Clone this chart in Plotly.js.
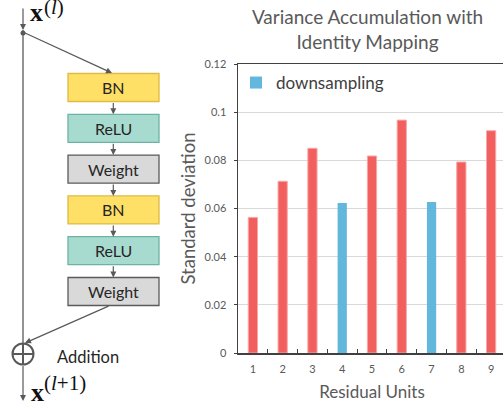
<!DOCTYPE html>
<html>
<head>
<meta charset="utf-8">
<script src="https://cdn.plot.ly/plotly-3.0.1.min.js"></script>
<style>
  html, body { margin: 0; padding: 0; overflow: hidden; background: #fff; }
  #chart { width: 508px; height: 406px; }
</style>
</head>
<body>
<div id="chart"></div>
<script>
// ---- data ----
const categories = ["1", "2", "3", "4", "5", "6", "7", "8", "9"];
const residualStd = [0.0563, 0.0713, 0.0850, 0.0623, 0.0818, 0.0967, 0.0627, 0.0793, 0.0923];
const downsamplingUnits = ["4", "7"];
const blockLabels = ["BN", "ReLU", "Weight", "BN", "ReLU", "Weight"];
const yTickVals = [0, 0.02, 0.04, 0.06, 0.08, 0.1, 0.12];

const normalX = [], normalY = [], downX = [], downY = [];
categories.forEach((c, i) => {
  if (downsamplingUnits.includes(c)) { downX.push(c); downY.push(residualStd[i]); }
  else { normalX.push(c); normalY.push(residualStd[i]); }
});

// ---- layout geometry (pixels) ----
const FIG_W = 508, FIG_H = 406;
const M = { l: 238, r: 2, t: 64, b: 53 };
const PW = FIG_W - M.l - M.r, PH = FIG_H - M.t - M.b;
const px = x => (x - M.l) / PW;
const py = y => 1 - (y - M.t) / PH;

const FONT = "Lato, 'Open Sans', sans-serif";
const SERIF = "'Liberation Serif', 'DejaVu Serif', serif";
const LINE = "#595959";

const shapes = [];
const annotations = [];

function arrow(x1, y1, x2, y2) {
  return { xref: "paper", yref: "paper", x: px(x2), y: py(y2),
    ax: x1 - x2, ay: y1 - y2, axref: "pixel", ayref: "pixel",
    text: "", showarrow: true, arrowhead: 2, arrowsize: 1, arrowwidth: 1.2,
    arrowcolor: LINE, standoff: 0, startstandoff: 0 };
}
function line(x1, y1, x2, y2, w) {
  return { type: "line", xref: "paper", yref: "paper",
    x0: px(x1), y0: py(y1), x1: px(x2), y1: py(y2),
    line: { color: LINE, width: w || 1.3 } };
}
function label(text, x, y, size, family, xanchor) {
  return { xref: "paper", yref: "paper", x: px(x), y: py(y), text: text,
    showarrow: false, xanchor: xanchor || "left", yanchor: "middle", borderpad: 0,
    font: { family: family, size: size, color: "#111" } };
}

// blocks
const boxStyles = {
  BN: { fill: "#FFE066", line: "#DDBB44" },
  ReLU: { fill: "#A8DBD0", line: "#6DB3A3" },
  Weight: { fill: "#D9D9D9", line: "#5A5A5A" }
};
const boxL = 68, boxR = 159, boxH = 28, boxTop0 = 73.5, boxStep = 40.8, boxCx = 113.3;
blockLabels.forEach((lab, i) => {
  const top = boxTop0 + i * boxStep;
  const st = boxStyles[lab];
  shapes.push({ type: "rect", xref: "paper", yref: "paper",
    x0: px(boxL), x1: px(boxR), y0: py(top), y1: py(top + boxH),
    fillcolor: st.fill, line: { color: st.line, width: 1.3 } });
  annotations.push({ xref: "paper", yref: "paper", x: px(boxCx), y: py(top + boxH / 2),
    text: lab, showarrow: false, xanchor: "center", yanchor: "middle",
    font: { family: FONT, size: 16, color: "#262626" } });
  if (i < blockLabels.length - 1) {
    annotations.push(arrow(boxCx, top + boxH, boxCx, top + boxStep));
  }
});

const mainX = 23;
// identity path
annotations.push(arrow(mainX, 7, mainX, 30));
shapes.push(line(mainX, 30, mainX, 343.5));
shapes.push({ type: "circle", xref: "paper", yref: "paper",
  x0: px(mainX - 2.5), x1: px(mainX + 2.5), y0: py(30.5), y1: py(35.5),
  fillcolor: LINE, line: { color: LINE, width: 0 } });
// branch in / out
annotations.push(arrow(mainX, 32, 112, 73));
annotations.push(arrow(110, 305.5, 25, 343));
// addition symbol
const cy = 354, r = 10.5;
shapes.push({ type: "circle", xref: "paper", yref: "paper",
  x0: px(mainX - r), x1: px(mainX + r), y0: py(cy - r), y1: py(cy + r),
  line: { color: LINE, width: 2 } });
shapes.push(line(mainX - r, cy, mainX + r, cy, 2));
shapes.push(line(mainX, cy - r, mainX, cy + r, 2));
annotations.push(arrow(mainX, cy + r, mainX, 401));

annotations.push({ xref: "paper", yref: "paper", x: px(55), y: py(357), text: "Addition",
  showarrow: false, xanchor: "left", yanchor: "middle",
  font: { family: FONT, size: 16.5, color: "#262626" } });
// x^(l) and x^(l+1)
annotations.push(label("<b>x</b>", 29, 12.5, 26, SERIF));
annotations.push(label("(<i>l</i>)", 43, 7, 21, SERIF));
annotations.push(label("<b>x</b>", 30, 392, 26, SERIF));
annotations.push(label("(<i>l</i>+1)", 43, 383, 21, SERIF));

const traces = [
  { type: "bar", x: normalX, y: normalY, name: "identity", showlegend: false,
    width: 0.31, marker: { color: "#F25F5F", line: { color: "#F9A7A7", width: 1 } },
    hoverinfo: "x+y" },
  { type: "bar", x: downX, y: downY, name: "downsampling", showlegend: true,
    width: 0.31, marker: { color: "#62B7DC", line: { width: 0 } },
    hoverinfo: "x+y" }
];

const layout = {
  width: FIG_W, height: FIG_H,
  margin: M,
  paper_bgcolor: "#fff", plot_bgcolor: "#fff",
  barmode: "overlay",
  font: { family: FONT, color: "#595959" },
  title: { text: "Variance Accumulation with<br>Identity Mapping",
    xref: "paper", x: px(367.5), xanchor: "center",
    yref: "container", y: 1 - 24 / FIG_H, yanchor: "top",
    font: { family: FONT, size: 19, color: "#595959" } },
  xaxis: {
    type: "category", categoryorder: "array", categoryarray: categories,
    range: [-0.5, 8.5],
    tickson: "boundaries", ticks: "inside", ticklen: 4, tickcolor: "#404040", tickwidth: 1,
    ticklabelstandoff: 5,
    showline: true, linecolor: "#404040", linewidth: 1.5, mirror: true,
    showgrid: false, zeroline: false,
    tickfont: { family: FONT, size: 11, color: "#595959" },
    title: { text: "Residual Units", standoff: 12, font: { family: FONT, size: 17, color: "#595959" } }
  },
  yaxis: {
    range: [0, 0.12], tickvals: yTickVals, ticktext: yTickVals.map(v => String(v)),
    ticks: "outside", ticklen: 3, tickcolor: "#404040",
    ticklabelstandoff: 5,
    showline: true, linecolor: "#404040", linewidth: 1.5, mirror: true,
    showgrid: true, gridcolor: "#D9D9D9", gridwidth: 1, zeroline: false,
    tickfont: { family: FONT, size: 11, color: "#595959" },
    title: { text: "Standard deviation", standoff: 4, font: { family: FONT, size: 18.5, color: "#595959" } }
  },
  legend: { x: px(236), y: py(83), xanchor: "left", yanchor: "middle",
    bgcolor: "rgba(0,0,0,0)", font: { family: FONT, size: 17, color: "#404040" } },
  shapes: shapes,
  annotations: annotations
};

Plotly.newPlot("chart", traces, layout, { displayModeBar: false, staticPlot: true });
</script>
</body>
</html>
